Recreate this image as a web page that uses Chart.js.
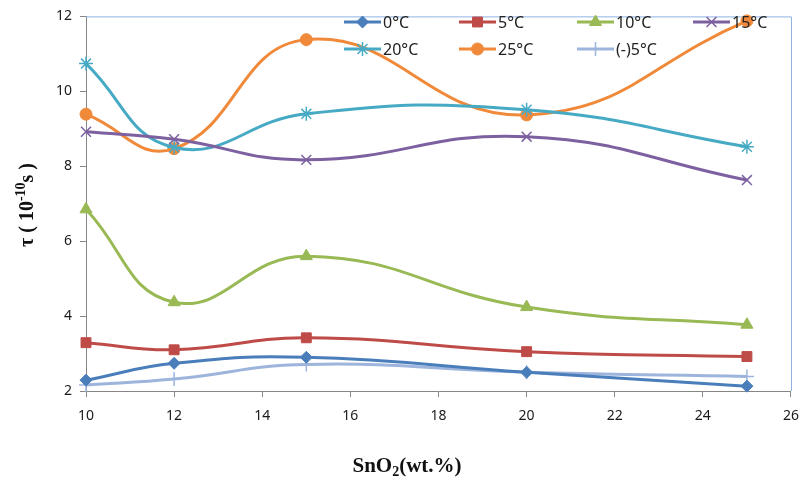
<!DOCTYPE html>
<html>
<head>
<meta charset="utf-8">
<script src="https://cdn.jsdelivr.net/npm/chart.js@4.4.1/dist/chart.umd.min.js"></script>
<style>
  html, body { margin: 0; padding: 0; background: #fff; }
  #wrap { width: 810px; height: 482px; position: relative; }
</style>
</head>
<body>
<div id="wrap"><canvas id="tauChart" width="810" height="482"></canvas></div>
<script>
// SnO2 content (wt.%)
const sno2 = [10, 12, 15, 20, 25];

// tau values (10^-10 s) for each temperature
const t0 = [2.29, 2.74, 2.90, 2.50, 2.13];
const t5 = [3.29, 3.10, 3.42, 3.05, 2.92];
const t10 = [6.85, 4.37, 5.60, 4.24, 3.77];
const t15 = [8.92, 8.72, 8.17, 8.79, 7.63];
const t20 = [10.74, 8.50, 9.40, 9.51, 8.52];
const t25 = [9.39, 8.47, 11.38, 9.37, 11.88];
const tm5 = [2.16, 2.32, 2.71, 2.50, 2.39];

const xTicks = [10, 12, 14, 16, 18, 20, 22, 24, 26];
const yTicks = [2, 4, 6, 8, 10, 12];

function pts(vals) {
    return vals.map(function (v, i) { return { x: sno2[i], y: v }; });
}

function series(label, vals, color, marker, size) {
    return {
        label: label,
        data: pts(vals),
        borderColor: color,
        backgroundColor: color,
        pointBackgroundColor: color,
        pointBorderColor: color,
        borderWidth: 3,
        pointStyle: marker,
        pointRadius: size,
        pointBorderWidth: (marker === 'crossRot' || marker === 'star' || marker === 'cross') ? 1.5 : 1,
        tension: 0.45,
        clip: false
    };
}

const datasets = [
    series('0°C', t0, '#4A7EBB', 'rectRot', 6),
    series('5°C', t5, '#BE4B48', 'rect', 7),
    series('10°C', t10, '#98B954', 'triangle', 7),
    series('15°C', t15, '#7D60A0', 'crossRot', 7),
    series('20°C', t20, '#46AAC5', 'star', 7),
    series('25°C', t25, '#F08A3A', 'circle', 6),
    series('(-)5°C', tm5, '#9DB5DC', 'cross', 7)
];

// legend layout (2 rows x 4 cols)
const legendCols = [344, 459, 577, 693];
const legendRows = [22, 49];

const decorPlugin = {
    id: 'decor',
    beforeDatasetsDraw(chart) {
        const ctx = chart.ctx;
        const a = chart.chartArea;
        ctx.save();
        ctx.lineWidth = 1;
        ctx.strokeStyle = '#8EB4E3';
        ctx.beginPath();
        ctx.moveTo(a.left, a.top + 0.5);
        ctx.lineTo(a.right + 0.5, a.top + 0.5);
        ctx.lineTo(a.right + 0.5, a.bottom);
        ctx.stroke();
        ctx.restore();
    },
    afterDraw(chart) {
        const ctx = chart.ctx;
        ctx.save();
        // legend
        chart.data.datasets.forEach(function (ds, i) {
            const x0 = legendCols[i % 4];
            const y0 = legendRows[Math.floor(i / 4)];
            ctx.strokeStyle = ds.borderColor;
            ctx.lineWidth = 3;
            ctx.beginPath();
            ctx.moveTo(x0, y0);
            ctx.lineTo(x0 + 37, y0);
            ctx.stroke();
            ctx.fillStyle = ds.pointBackgroundColor;
            ctx.strokeStyle = ds.pointBorderColor;
            ctx.lineWidth = ds.pointBorderWidth;
            Chart.helpers.drawPoint(ctx, {
                pointStyle: ds.pointStyle,
                radius: ds.pointRadius,
                borderWidth: ds.pointBorderWidth,
                rotation: 0
            }, x0 + 18.5, y0);
            ctx.fillStyle = '#222';
            ctx.font = '16px "Noto Sans"';
            ctx.textBaseline = 'middle';
            ctx.textAlign = 'left';
            ctx.fillText(ds.label, x0 + 39, y0 + 1);
        });

        // x title: SnO2(wt.%)
        ctx.fillStyle = '#111';
        ctx.textBaseline = 'alphabetic';
        ctx.textAlign = 'left';
        const big = 'bold 21px "Liberation Serif"';
        const small = 'bold 14px "Liberation Serif"';
        ctx.font = big;
        const w1 = ctx.measureText('SnO').width;
        const w3 = ctx.measureText('(wt.%)').width;
        ctx.font = small;
        const w2 = ctx.measureText('2').width;
        const xs = 407 - (w1 + w2 + w3) / 2;
        const yb = 472;
        ctx.font = big;
        ctx.fillText('SnO', xs, yb);
        ctx.font = small;
        ctx.fillText('2', xs + w1, yb + 4);
        ctx.font = big;
        ctx.fillText('(wt.%)', xs + w1 + w2, yb);

        // y title: tau ( 10^-10 s )
        ctx.translate(33, 205);
        ctx.rotate(-Math.PI / 2);
        const parts = [
            ['τ ( 10', 'bold 20px "Liberation Serif"', 0],
            ['-10', 'bold 14px "Liberation Serif"', -8],
            ['s )', 'bold 20px "Liberation Serif"', 0]
        ];
        let total = 0;
        parts.forEach(function (p) { ctx.font = p[1]; total += ctx.measureText(p[0]).width; });
        let px = -total / 2;
        parts.forEach(function (p) {
            ctx.font = p[1];
            ctx.fillText(p[0], px, p[2]);
            px += ctx.measureText(p[0]).width;
        });
        ctx.restore();
    }
};

const ctx = document.getElementById('tauChart').getContext('2d');
const tauChart = new Chart(ctx, {
    type: 'line',
    data: { datasets: datasets },
    options: {
        responsive: false,
        animation: false,
        layout: { padding: { top: 13, right: 15, left: 0, bottom: 0 } },
        plugins: {
            legend: { display: false },
            tooltip: { enabled: false }
        },
        scales: {
            x: {
                type: 'linear',
                min: 10,
                max: 26,
                afterBuildTicks: function (axis) {
                    axis.ticks = xTicks.map(function (v) { return { value: v }; });
                },
                afterFit: function (axis) { axis.height = 91; },
                grid: {
                    drawOnChartArea: false,
                    drawTicks: true,
                    tickLength: 6,
                    color: '#868686'
                },
                border: { color: '#868686', width: 1 },
                ticks: {
                    padding: 11,
                    color: '#1a1a1a',
                    font: { family: 'Noto Sans', size: 14 }
                }
            },
            y: {
                min: 2,
                max: 12,
                afterBuildTicks: function (axis) {
                    axis.ticks = yTicks.map(function (v) { return { value: v }; });
                },
                afterFit: function (axis) { axis.width = 86; },
                grid: {
                    drawOnChartArea: false,
                    drawTicks: true,
                    tickLength: 6,
                    color: '#868686'
                },
                border: { color: '#868686', width: 1 },
                ticks: {
                    padding: 8,
                    color: '#1a1a1a',
                    font: { family: 'Noto Sans', size: 14 }
                }
            }
        }
    },
    plugins: [decorPlugin]
});
</script>
</body>
</html>
